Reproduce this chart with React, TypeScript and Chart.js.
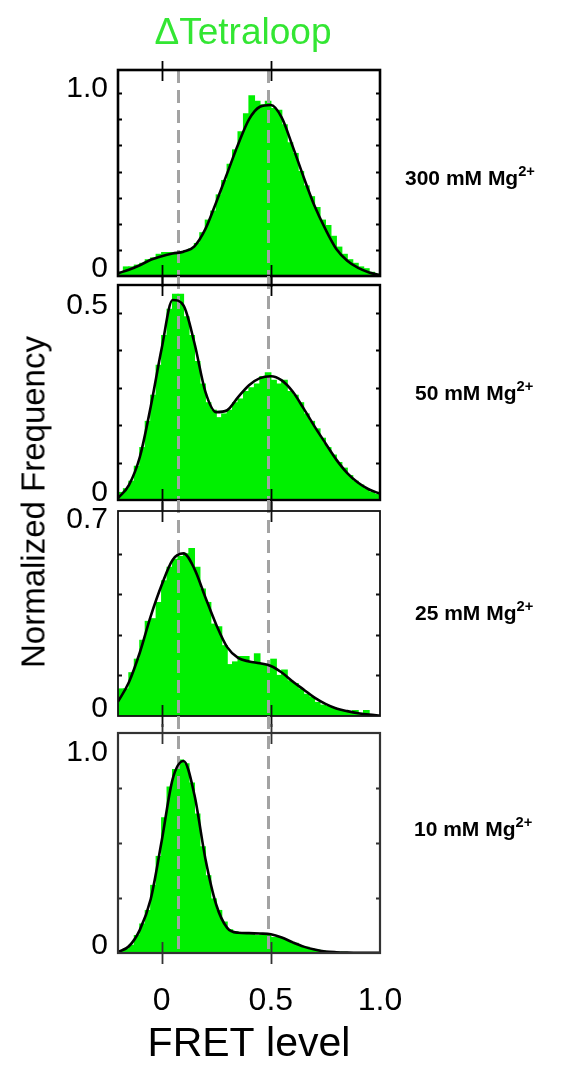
import React, { useEffect, useRef } from "react";
import { Chart, registerables } from "chart.js";

Chart.register(...registerables);

// ---------- data ----------
const binCenters = [
  -0.1875, -0.1625, -0.1375, -0.1125, -0.0875, -0.0625, -0.0375, -0.0125,
  0.0125, 0.0375, 0.0625, 0.0875, 0.1125, 0.1375, 0.1625, 0.1875,
  0.2125, 0.2375, 0.2625, 0.2875, 0.3125, 0.3375, 0.3625, 0.3875,
  0.4125, 0.4375, 0.4625, 0.4875, 0.5125, 0.5375, 0.5625, 0.5875,
  0.6125, 0.6375, 0.6625, 0.6875, 0.7125, 0.7375, 0.7625, 0.7875,
  0.8125, 0.8375, 0.8625, 0.8875, 0.9125, 0.9375, 0.9625, 0.9875,
];

const fitX = [
  -0.2, -0.15, -0.1, -0.05, 0, 0.05, 0.1, 0.15, 0.2, 0.25, 0.3, 0.35, 0.4,
  0.45, 0.5, 0.55, 0.6, 0.65, 0.7, 0.75, 0.8, 0.85, 0.9, 0.95, 1.0,
];

const hist300 = [
  0.02, 0.05, 0.05, 0.06, 0.07, 0.09, 0.1, 0.12, 0.13, 0.13, 0.12, 0.13,
  0.14, 0.15, 0.18, 0.24, 0.31, 0.36, 0.45, 0.53, 0.62, 0.7, 0.8, 0.9,
  1.0, 0.97, 0.95, 0.97, 0.93, 0.92, 0.84, 0.74, 0.68, 0.58, 0.5, 0.44,
  0.38, 0.31, 0.28, 0.22, 0.16, 0.12, 0.09, 0.07, 0.05, 0.04, 0.02, 0.01,
];
const fit300 = [
  0.015, 0.035, 0.06, 0.09, 0.11, 0.125, 0.135, 0.165, 0.26, 0.41, 0.57,
  0.73, 0.87, 0.94, 0.95, 0.88, 0.72, 0.55, 0.39, 0.26, 0.15, 0.085, 0.045,
  0.02, 0.005,
];

const hist50 = [
  0.02, 0.03, 0.05, 0.09, 0.14, 0.21, 0.28, 0.36, 0.44, 0.51, 0.55, 0.55,
  0.49, 0.44, 0.37, 0.31, 0.26, 0.24, 0.22, 0.23, 0.24, 0.26, 0.27, 0.29,
  0.3, 0.31, 0.33, 0.34, 0.32, 0.31, 0.32, 0.29, 0.28, 0.26, 0.23, 0.21,
  0.19, 0.165, 0.14, 0.12, 0.1, 0.085, 0.065, 0.05, 0.04, 0.03, 0.02, 0.015,
];
const fit50 = [
  0.005, 0.04, 0.115, 0.25, 0.405, 0.535, 0.52, 0.42, 0.29, 0.235, 0.24,
  0.275, 0.307, 0.326, 0.331, 0.32, 0.29, 0.245, 0.197, 0.152, 0.108, 0.072,
  0.046, 0.028, 0.017,
];

const hist25 = [
  0.1, 0.1, 0.16, 0.21, 0.28, 0.35, 0.36, 0.42, 0.5, 0.55, 0.58, 0.59,
  0.6, 0.62, 0.55, 0.47, 0.42, 0.34, 0.33, 0.26, 0.19, 0.2, 0.22, 0.22,
  0.2, 0.23, 0.19, 0.19, 0.21, 0.15, 0.17, 0.13, 0.12, 0.1, 0.08, 0.07,
  0.05, 0.04, 0.035, 0.03, 0.02, 0.02, 0.015, 0.02, 0.01, 0.02, 0.005, 0.0,
];
const fit25 = [
  0.053, 0.125, 0.235, 0.37, 0.485, 0.578, 0.602, 0.545, 0.44, 0.338, 0.255,
  0.215, 0.202, 0.195, 0.185, 0.161, 0.128, 0.098, 0.068, 0.045, 0.028,
  0.018, 0.01, 0.005, 0.002,
];

const hist10 = [
  0.01, 0.02, 0.04, 0.09, 0.15, 0.22, 0.35, 0.5, 0.7, 0.86, 0.95, 1.0,
  0.98, 0.88, 0.72, 0.55, 0.4, 0.28, 0.22, 0.16, 0.12, 0.11, 0.1, 0.1,
  0.1, 0.09, 0.1, 0.09, 0.08, 0.08, 0.07, 0.06, 0.05, 0.035, 0.03, 0.02,
  0.015, 0.01, 0.005, 0.005, 0.003, 0.003, 0.002, 0.002, 0.002, 0.001, 0.001, 0.0,
];
const fit10 = [
  0.005, 0.035, 0.12, 0.28, 0.58, 0.9, 0.995, 0.82, 0.49, 0.25, 0.13, 0.105,
  0.103, 0.101, 0.097, 0.08, 0.055, 0.033, 0.018, 0.008, 0.004, 0.002,
  0.001, 0.001, 0.001,
];

const concentrations = ["300", "50", "25", "10"];
const yLabelTicks = [1.0, 0.5, 0.7, 1.0];
const yMaxima = [1.144, 0.575, 0.759, 1.14];
const yMinorSteps = [0.145, 0.1, 0.15, 0.285];
const xTickValues = [0, 0.5, 1.0];
const xMajorMarks = [0, 0.5];
const markerLines = [0.075, 0.485];

// ---------- layout / style ----------
const FONT = '"Liberation Sans", Arial, Helvetica, sans-serif';
const GREEN = "#00f000";
const PAD = 40;
const X_AXIS_H = 117;
const CANVAS_W = 450;

const layout = [
  { top: 70, bottom: 276, gap: 0, border: 2.6, color: "#000", labelLeft: 405, labelY: 177 },
  { top: 285, bottom: 500, gap: 9, border: 2.4, color: "#000", labelLeft: 415, labelY: 392 },
  { top: 511, bottom: 716, gap: 11, border: 1.8, color: "#111", labelLeft: 415, labelY: 612 },
  { top: 733, bottom: 953, gap: 17, border: 2.2, color: "#333", labelLeft: 414, labelY: 828 },
];

const histograms = [hist300, hist50, hist25, hist10];
const fits = [fit300, fit50, fit25, fit10];

const decoPlugin = {
  id: "panelDeco",
  afterDatasetDraw(chart: any, args: any, opts: any) {
    if (args.meta.type !== "bar") return;
    const { ctx, chartArea } = chart;
    const xs = chart.scales.x;
    ctx.save();
    ctx.setLineDash([13, 7]);
    ctx.lineWidth = 3;
    ctx.strokeStyle = "#a3a3a3";
    for (const v of markerLines) {
      const px = Math.round(xs.getPixelForValue(v)) + 0.5;
      ctx.beginPath();
      ctx.moveTo(px, chartArea.top - opts.gap);
      ctx.lineTo(px, chartArea.bottom);
      ctx.stroke();
    }
    ctx.restore();
  },
  afterDraw(chart: any, _args: any, opts: any) {
    const { ctx, chartArea } = chart;
    const { left, right, top, bottom } = chartArea;
    const xs = chart.scales.x;
    const ys = chart.scales.y;
    ctx.save();
    ctx.strokeStyle = opts.color;
    ctx.lineWidth = 1.8;
    for (const v of xMajorMarks) {
      const px = Math.round(xs.getPixelForValue(v)) + 0.5;
      ctx.beginPath();
      ctx.moveTo(px, top - 9);
      ctx.lineTo(px, top + 11);
      ctx.moveTo(px, bottom - 11);
      ctx.lineTo(px, bottom + 11);
      ctx.stroke();
    }
    ctx.lineWidth = 2;
    for (let v = opts.minor; v < ys.max - 0.03; v += opts.minor) {
      const py = Math.round(ys.getPixelForValue(v)) + 0.5;
      ctx.beginPath();
      ctx.moveTo(left, py);
      ctx.lineTo(left + 4, py);
      ctx.moveTo(right - 4, py);
      ctx.lineTo(right, py);
      ctx.stroke();
    }
    ctx.lineWidth = opts.border;
    ctx.strokeStyle = opts.color;
    ctx.strokeRect(left, top, right - left, bottom - top);
    ctx.restore();
  },
};

function PanelChart({ index }: { index: number }) {
  const ref = useRef<HTMLCanvasElement | null>(null);
  const lay = layout[index];
  const isLast = index === layout.length - 1;
  const canvasTop = lay.top - PAD;
  const height = isLast ? 1070 - canvasTop : lay.bottom - lay.top + 2 * PAD;

  useEffect(() => {
    if (!ref.current) return;
    const hist = histograms[index];
    const fit = fits[index];
    const yTick = yLabelTicks[index];
    const chart = new Chart(ref.current, {
      type: "bar",
      data: {
        datasets: [
          {
            type: "bar",
            data: binCenters.map((x, i) => ({ x, y: hist[i] })),
            backgroundColor: GREEN,
            borderWidth: 0,
            barPercentage: 1,
            categoryPercentage: 1,
            inflateAmount: 0.6,
            order: 2,
          } as any,
          {
            type: "line",
            data: fitX.map((x, i) => ({ x, y: fit[i] })),
            borderColor: "#000",
            borderWidth: 2.6,
            pointRadius: 0,
            cubicInterpolationMode: "monotone",
            fill: false,
            order: 1,
          } as any,
        ],
      },
      options: {
        animation: false,
        responsive: false,
        devicePixelRatio: 1,
        layout: { padding: { top: PAD, bottom: isLast ? 0 : PAD, left: 0, right: 70 } },
        plugins: {
          legend: { display: false },
          tooltip: { enabled: false },
          panelDeco: {
            gap: lay.gap,
            minor: yMinorSteps[index],
            border: lay.border,
            color: lay.color,
          },
        } as any,
        scales: {
          x: {
            type: "linear",
            min: -0.2,
            max: 1.0,
            offset: false,
            display: isLast,
            grid: { display: false, drawTicks: false },
            border: { display: false },
            afterBuildTicks: (s: any) => {
              s.ticks = xTickValues.map((v) => ({ value: v }));
            },
            afterFit: (s: any) => {
              s.height = isLast ? X_AXIS_H : 0;
            },
            ticks: {
              font: { family: FONT, size: 32 },
              color: "#000",
              padding: 29,
              maxRotation: 0,
              autoSkip: false,
              callback: (v: any) => (Number(v) === 0 ? "0" : Number(v).toFixed(1)),
            },
            title: {
              display: true,
              text: "FRET level",
              font: { family: FONT, size: 41 },
              color: "#000",
              padding: { top: 0, bottom: 1 },
            },
          },
          y: {
            type: "linear",
            min: 0,
            max: yMaxima[index],
            grid: { display: false, drawTicks: false },
            border: { display: false },
            afterFit: (s: any) => {
              s.width = 118;
            },
            afterBuildTicks: (s: any) => {
              s.ticks = [{ value: 0 }, { value: yTick }];
            },
            ticks: {
              font: { family: FONT, size: 30 },
              color: "#000",
              padding: 10,
              labelOffset: -7,
              autoSkip: false,
              callback: (v: any) => (Number(v) === 0 ? "0" : Number(v).toFixed(1)),
            },
          },
        } as any,
      },
      plugins: [decoPlugin as any],
    } as any);
    return () => chart.destroy();
  }, [index]);

  return (
    <canvas
      ref={ref}
      width={CANVAS_W}
      height={height}
      style={{ position: "absolute", left: 0, top: canvasTop, width: CANVAS_W, height }}
    />
  );
}

export default function App() {
  return (
    <div
      style={{
        position: "absolute",
        left: 0,
        top: 0,
        width: 584,
        height: 1070,
        overflow: "hidden",
        background: "#fff",
        fontFamily: FONT,
      }}
    >
      {layout.map((_, i) => (
        <PanelChart key={i} index={i} />
      ))}
      <div
        style={{
          position: "absolute",
          left: 243,
          top: 31,
          transform: "translate(-50%, -50%)",
          fontSize: 37,
          color: "#33e633",
          whiteSpace: "nowrap",
          lineHeight: 1,
        }}
      >
        ΔTetraloop
      </div>
      <div
        style={{
          position: "absolute",
          left: 33,
          top: 502,
          transform: "translate(-50%, -50%) rotate(-90deg)",
          fontSize: 33,
          color: "#000",
          whiteSpace: "nowrap",
          lineHeight: 1,
        }}
      >
        Normalized Frequency
      </div>
      {layout.map((lay, i) => (
        <div
          key={"lab" + i}
          style={{
            position: "absolute",
            left: lay.labelLeft,
            top: lay.labelY,
            transform: "translateY(-50%)",
            fontSize: 21,
            fontWeight: "bold",
            color: "#000",
            whiteSpace: "nowrap",
            lineHeight: 1,
          }}
        >
          {concentrations[i]} mM Mg
          <sup style={{ fontSize: "0.7em", verticalAlign: "0.55em", lineHeight: 0 }}>2+</sup>
        </div>
      ))}
    </div>
  );
}
